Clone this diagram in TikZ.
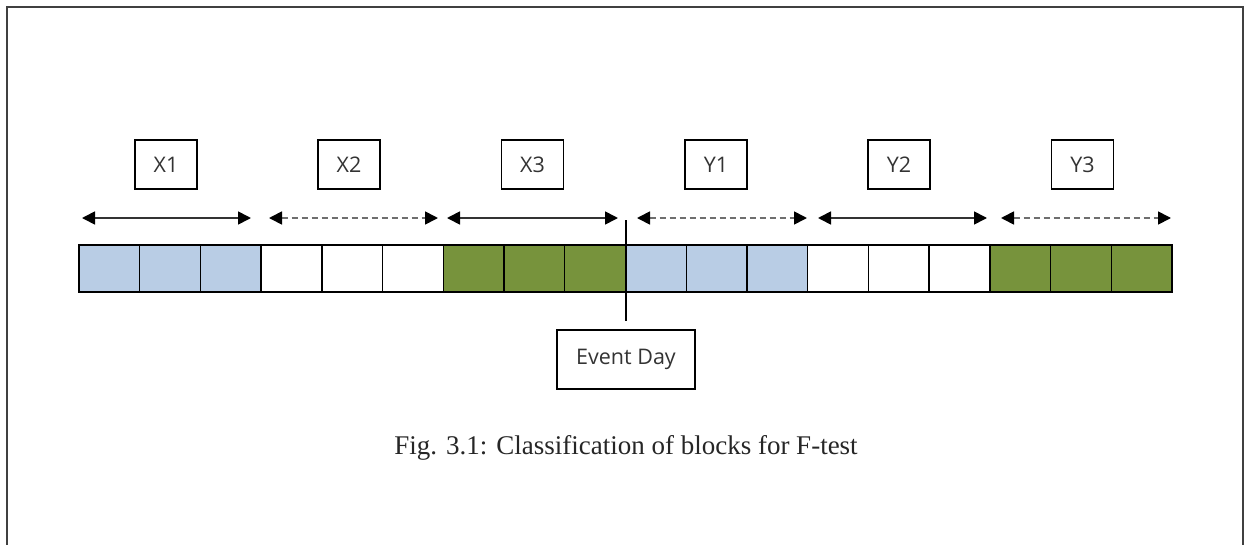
\documentclass[tikz,border=0pt]{standalone}
\usepackage{fontspec}
\setmainfont{Liberation Serif}
\newfontfamily\lblfont{Open Sans}
\usetikzlibrary{arrows.meta}
\definecolor{cellblue}{HTML}{B9CDE5}
\definecolor{cellgreen}{HTML}{77933C}
\definecolor{framegray}{HTML}{404040}
\definecolor{dashgray}{HTML}{6E6E6E}
\tikzset{
  cell/.style={draw,line width=1.4pt,minimum width=60.72pt,minimum height=47pt,inner sep=0pt},
  lbl/.style={draw,line width=1.2pt,minimum width=62pt,minimum height=49pt,inner sep=0pt,font=\lblfont\fontsize{21.5}{26}\selectfont,text=black!80},
  span/.style={line width=1.7pt,draw=black!80,{Triangle[length=13pt,width=13pt,color=black]}-{Triangle[length=13pt,width=13pt,color=black]}},
  dspan/.style={span,draw=dashgray,dash pattern=on 6pt off 4pt}
}
\begin{document}
\begin{tikzpicture}[x=1pt,y=-1pt]
  \useasboundingbox (0,0) rectangle (1251,544);
  % frame
  \draw[framegray,line width=2pt] (7,600) -- (7,7) -- (1243,7) -- (1243,600);

  % day blocks
  \foreach \i/\c in {1/cellblue,2/cellblue,3/cellblue,4/white,5/white,6/white,
                     7/cellgreen,8/cellgreen,9/cellgreen,10/cellblue,11/cellblue,12/cellblue,
                     13/white,14/white,15/white,16/cellgreen,17/cellgreen,18/cellgreen}
    \node[cell,fill=\c] (c\i) at ({79+60.72*(\i-0.5)},268.5) {};

  % block labels
  \node[lbl] (x1) at (166,164.5) {X1};
  \node[lbl] (x2) at (349,164.5) {X2};
  \node[lbl] (x3) at (532.5,164.5) {X3};
  \node[lbl] (y1) at (716,164.5) {Y1};
  \node[lbl] (y2) at (899,164.5) {Y2};
  \node[lbl] (y3) at (1082.5,164.5) {Y3};

  % spans
  \coordinate (x1l) at (82,218);   \coordinate (x1r) at (251,218);
  \coordinate (x2l) at (269,218);  \coordinate (x2r) at (438,218);
  \coordinate (x3l) at (447,218);  \coordinate (x3r) at (618,218);
  \coordinate (y1l) at (637,218);  \coordinate (y1r) at (807,218);
  \coordinate (y2l) at (818,218);  \coordinate (y2r) at (987,218);
  \coordinate (y3l) at (1001,218); \coordinate (y3r) at (1171,218);
  \draw[span] (x1l) -- (x1r);
  \draw[dspan] (x2l) -- (x2r);
  \draw[span] (x3l) -- (x3r);
  \draw[dspan] (y1l) -- (y1r);
  \draw[span] (y2l) -- (y2r);
  \draw[dspan] (y3l) -- (y3r);

  % event day
  \node[lbl,minimum width=138pt,minimum height=59pt] (event) at (626,359.5) {Event Day};
  \coordinate (evtop) at (626,220);
  \coordinate (evbot) at (626,321);
  \draw[line width=1.4pt] (evtop) -- (evbot);

  % caption
  \node[font=\fontsize{27}{32}\selectfont,text=black!85] (cap) at (626,448) {Fig. 3.1: Classification of blocks for F-test};
\end{tikzpicture}
\end{document}
